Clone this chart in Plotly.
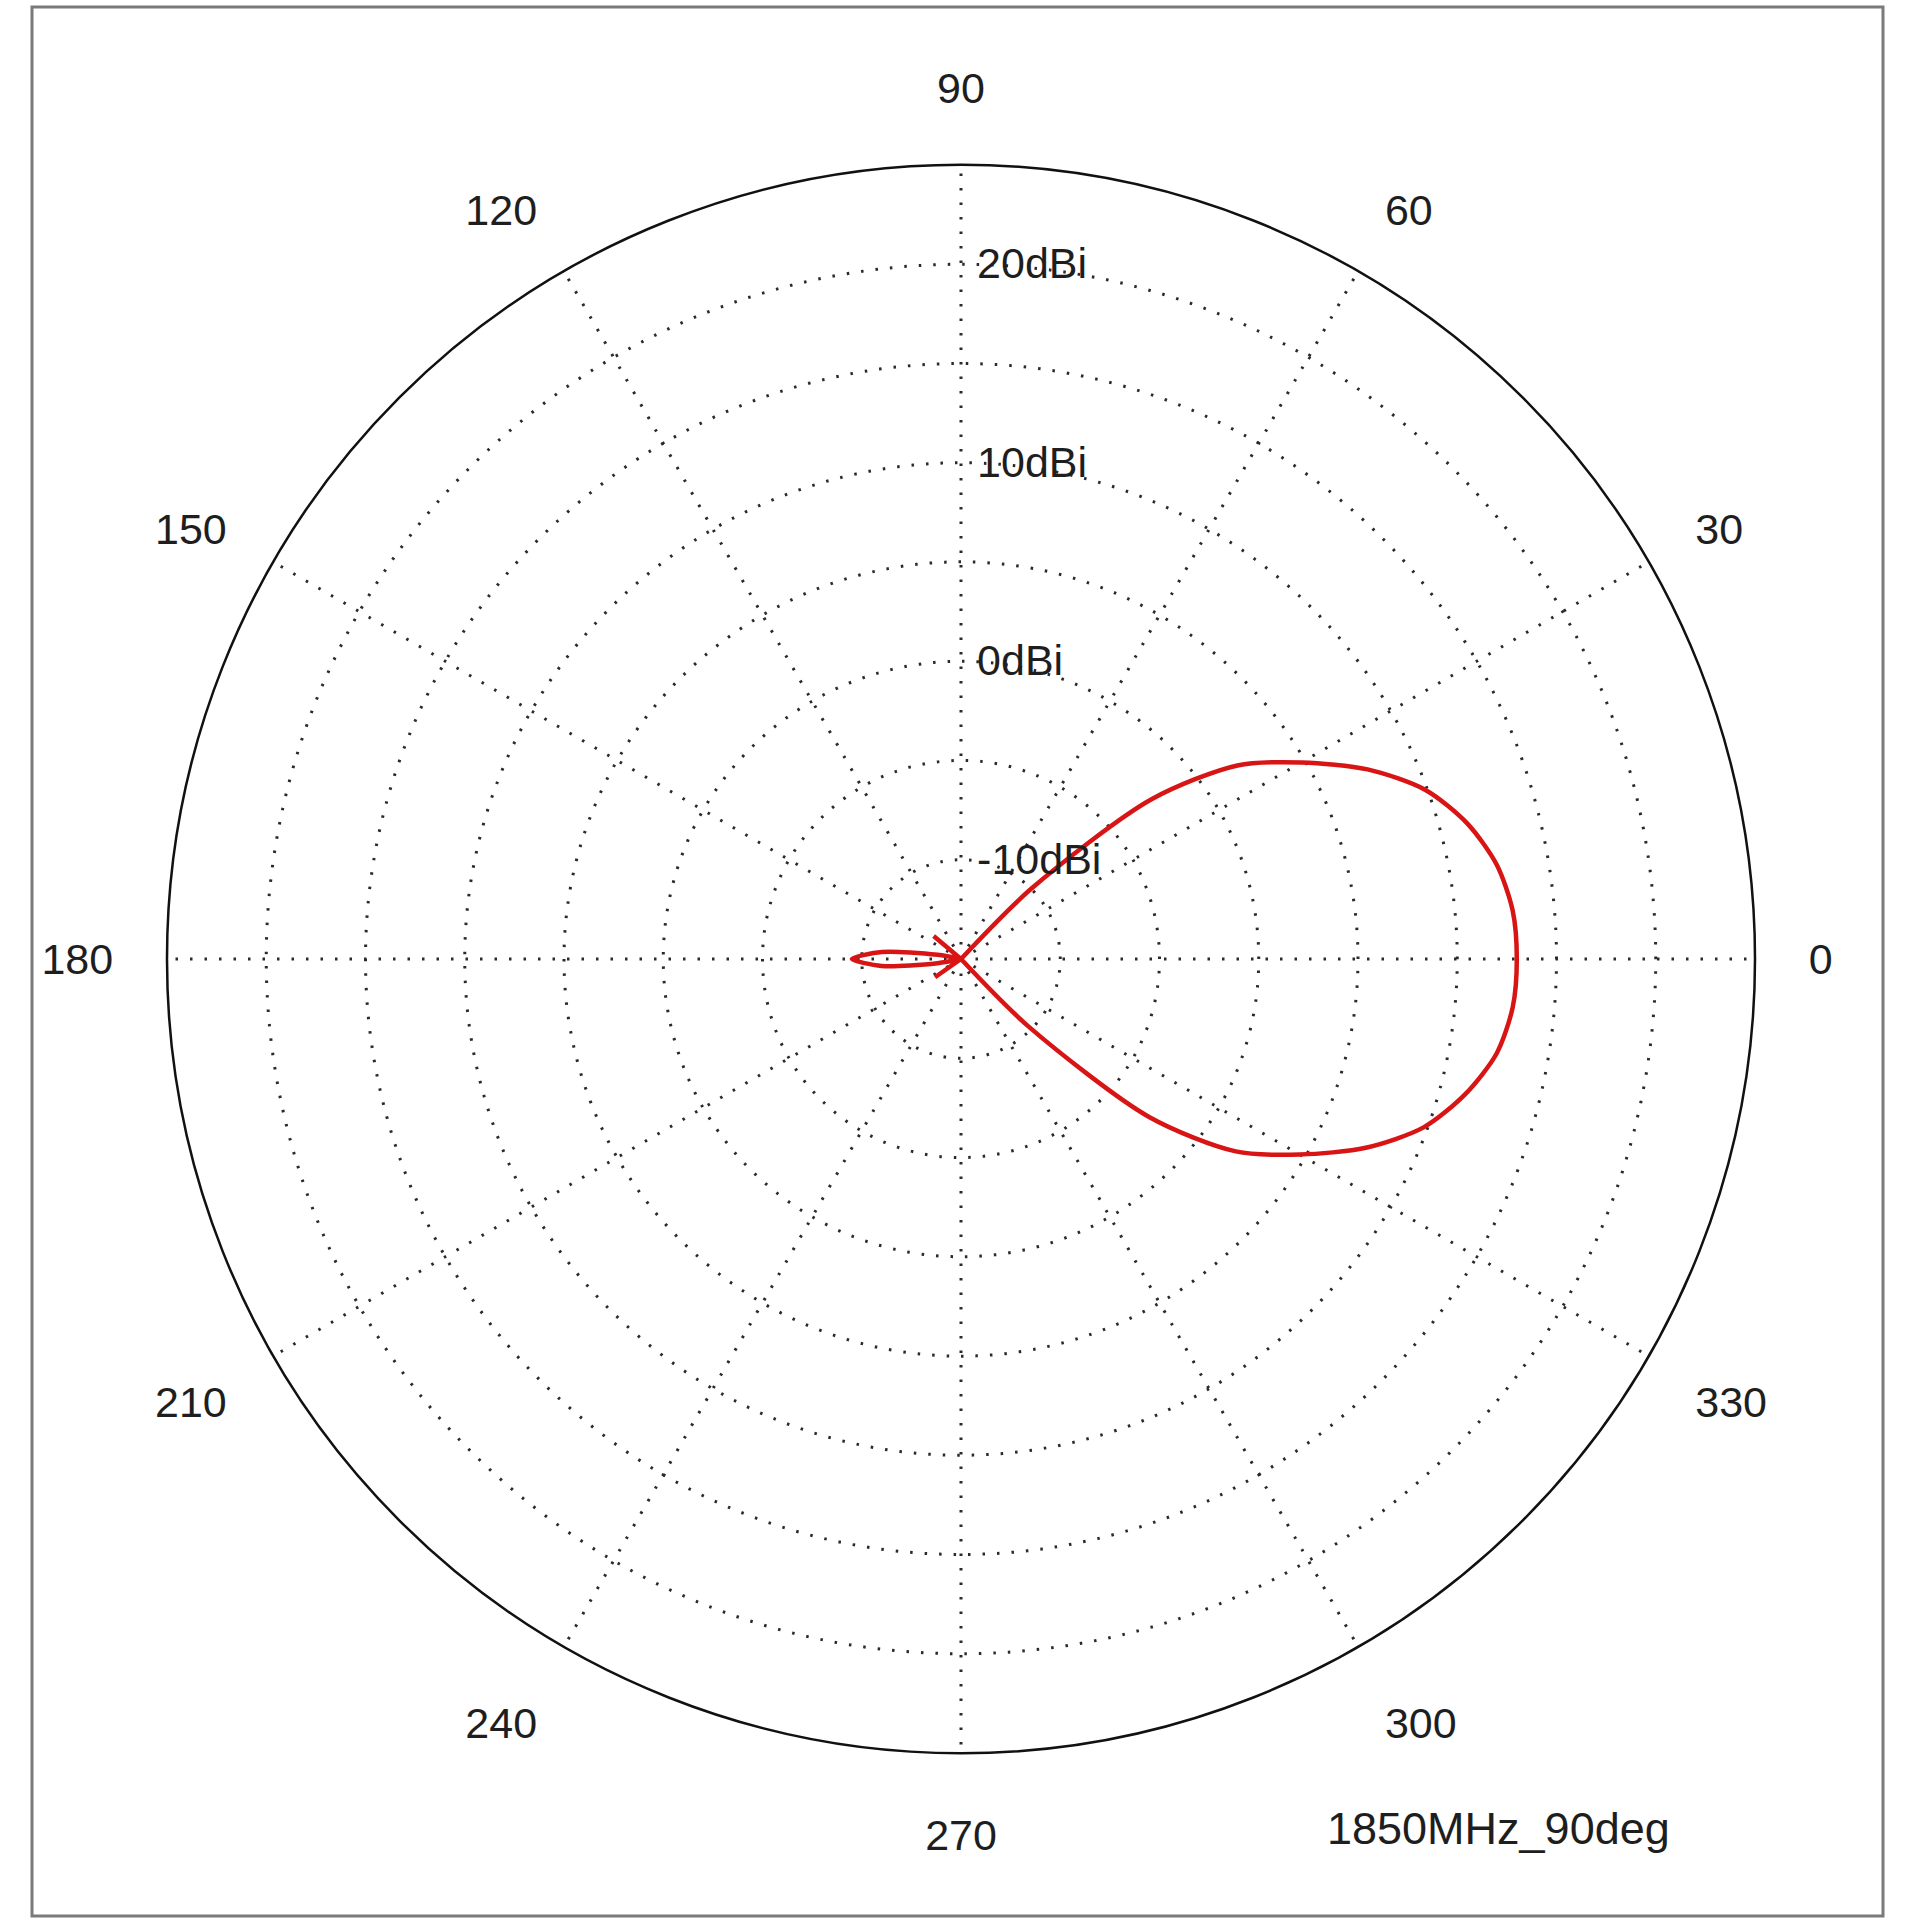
import plotly.graph_objects as go

angles = [0, 5, 10, 15, 20, 25, 30, 35, 40, 45, 50, 55, 60, 65, 70, 75, 80, 85,
          90, 95, 100, 105, 110, 115, 120, 125, 130, 135, 140, 145, 150, 155, 160, 165,
          170, 175, 180, 185, 190, 195, 200, 205, 210, 215, 220, 225, 230, 235, 240, 245,
          250, 255, 260, 265, 270, 275, 280, 285, 290, 295, 300, 305, 310, 315, 320, 325,
          330, 335, 340, 345, 350, 355, 360]
gain_dbi = [13.0, 12.9, 12.4, 11.4, 9.9, 7.6, 4.8, 2.0, -2.5, -10.0, -15, -15, -15, -15, -15, -15, -15, -15,
            -15, -15, -15, -15, -15, -15, -15, -15, -15, -15, -13.2, -15, -15, -15, -15, -15,
            -13.8, -11.0, -9.5, -11.0, -13.8, -15, -15, -15, -15, -13.4, -15, -15, -15, -15, -15, -15,
            -15, -15, -15, -15, -15, -15, -15, -15, -15, -15, -15, -15, -15, -10.2, -2.6, 1.9,
            4.7, 7.5, 9.8, 11.3, 12.4, 12.9, 13.0]

radial_ticks = [-10, -5, 0, 5, 10, 15, 20]
radial_labels = ["-10dBi", "", "0dBi", "", "10dBi", "", "20dBi"]
angular_ticks = [0, 30, 60, 90, 120, 150, 180, 210, 240, 270, 300, 330]
angular_labels = ["0", "30", "60", "90", "120", "150", "180", "210", "240", "270", "300", "330"]
caption = "1850MHz_90deg"

W = H = 1920
cx, cy, R = 961, 959, 794

fig = go.Figure()
fig.add_trace(go.Scatterpolar(
    r=gain_dbi, theta=angles, mode="lines",
    line=dict(color="#d81414", width=4.5, shape="spline", smoothing=0.8),
    showlegend=False, hoverinfo="skip"))

font_main = dict(family="Liberation Sans, Arial, sans-serif", size=43, color="#1e1e1e")

fig.update_layout(
    width=W, height=H,
    margin=dict(l=0, r=0, t=0, b=0),
    paper_bgcolor="white", plot_bgcolor="white",
    polar=dict(
        domain=dict(x=[(cx - R) / W, (cx + R) / W], y=[(H - cy - R) / H, (H - cy + R) / H]),
        bgcolor="white",
        radialaxis=dict(
            range=[-15, 25], tickvals=radial_ticks, ticktext=radial_labels,
            angle=90, side="clockwise", showline=False,
            ticks="outside", ticklen=7, tickcolor="rgba(0,0,0,0)",
            gridcolor="#2a2a2a", gridwidth=2.5, griddash="2.5px,12px",
            tickfont=font_main, tickangle=90),
        angularaxis=dict(
            tickvals=angular_ticks, ticktext=angular_labels,
            rotation=0, direction="counterclockwise",
            showline=True, linecolor="#111", linewidth=2.5,
            ticks="outside", ticklen=44, tickcolor="rgba(0,0,0,0)",
            gridcolor="#2a2a2a", gridwidth=2.5, griddash="2.5px,12px",
            tickfont=font_main),
    ),
    shapes=[dict(type="rect", xref="paper", yref="paper",
                 x0=32 / W, x1=1883 / W, y0=1 - 1916 / H, y1=1 - 7 / H,
                 line=dict(color="#7a7a7a", width=3))],
    annotations=[dict(text=caption, xref="paper", yref="paper",
                      x=1498 / W, y=1 - 1828 / H, xanchor="center", yanchor="middle",
                      showarrow=False, font=dict(font_main, size=45))],
)

fig.write_html("out.html", config={"displayModeBar": False},
               post_script="document.body.style.margin='0';document.body.style.overflow='hidden';")
